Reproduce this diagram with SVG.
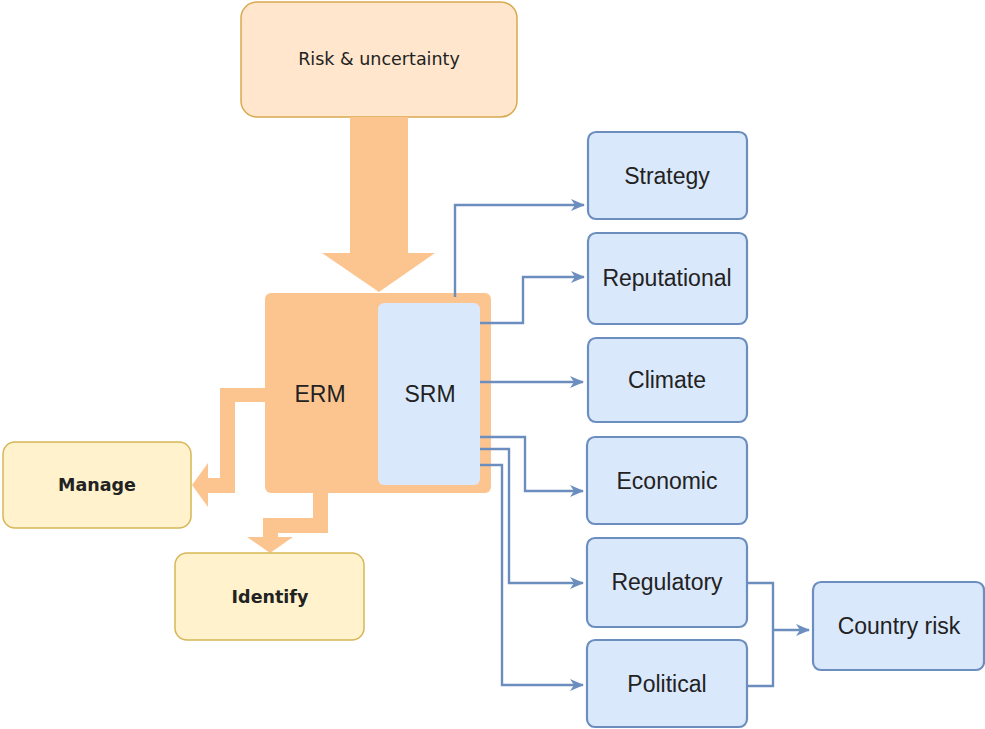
<svg xmlns="http://www.w3.org/2000/svg" width="985" height="729" viewBox="0 0 985 729">
<defs>
<style>
.blue{fill:#dae8fc;stroke:#6c8ebf;stroke-width:2.2}
.lbl{font-family:"Liberation Sans",Arial,sans-serif;font-size:23px;fill:#222;text-anchor:middle}
.tah{font-family:"DejaVu Sans",sans-serif;fill:#222;text-anchor:middle}
.con{fill:none;stroke:#6c8ebf;stroke-width:2.4}
.flex{fill:#fcc590;stroke:none}
</style>
<marker id="arr" viewBox="0 0 14 12" refX="13" refY="6" markerWidth="14" markerHeight="12" markerUnits="userSpaceOnUse" orient="auto">
<path d="M0,0 L14,6 L0,12 L4,6 Z" fill="#6c8ebf"/>
</marker>
</defs>
<rect width="985" height="729" fill="#ffffff"/>

<g id="risk">
<rect x="241" y="2" width="276" height="115" rx="16" fill="#ffe6cc" stroke="#d9a94f" stroke-width="1.5"/>
<text class="tah" x="379" y="65" font-size="17.5">Risk &amp; uncertainty</text>
</g>

<g id="bigarrow">
<path class="flex" d="M350,117 L408,117 L408,253 L435,253 L379,292 L322,253 L350,253 Z"/>
</g>

<g id="erm">
<rect x="265" y="293" width="226" height="200" rx="6" fill="#fcc590"/>
<text class="lbl" x="320" y="402" font-size="24" fill="#3a2a1a">ERM</text>
</g>

<g id="srm">
<rect x="378" y="303" width="102" height="182" rx="6" fill="#dae8fc"/>
<text class="lbl" x="430" y="402" font-size="24" fill="#2a3340">SRM</text>
</g>

<g id="flexarrows">
<path class="flex" d="M265,388 L265,402 L235,402 L235,493 L208,493 L208,507 L192,485 L208,463 L208,478 L220,478 L220,388 Z"/>
<path class="flex" d="M313,493 L328,493 L328,533 L278,533 L278,537 L293,537 L270,553 L247,537 L263,537 L263,518 L313,518 Z"/>
</g>

<g id="manage">
<rect x="3" y="442" width="188" height="86" rx="12" fill="#fff2cc" stroke="#d6b656" stroke-width="1.5"/>
<text class="tah" x="97" y="491" font-size="17.5" font-weight="bold">Manage</text>
</g>

<g id="identify">
<rect x="175" y="553" width="189" height="87" rx="12" fill="#fff2cc" stroke="#d6b656" stroke-width="1.5"/>
<text class="tah" x="270" y="603" font-size="17.5" font-weight="bold">Identify</text>
</g>

<g id="strategy">
<rect class="blue" x="588" y="132" width="159" height="87" rx="8"/>
<text class="lbl" x="667" y="184">Strategy</text>
</g>
<g id="reputational">
<rect class="blue" x="588" y="233" width="159" height="91" rx="8"/>
<text class="lbl" x="667" y="286">Reputational</text>
</g>
<g id="climate">
<rect class="blue" x="588" y="338" width="159" height="84" rx="8"/>
<text class="lbl" x="667" y="388">Climate</text>
</g>
<g id="economic">
<rect class="blue" x="587" y="437" width="160" height="87" rx="8"/>
<text class="lbl" x="667" y="489">Economic</text>
</g>
<g id="regulatory">
<rect class="blue" x="587" y="538" width="160" height="89" rx="8"/>
<text class="lbl" x="667" y="590">Regulatory</text>
</g>
<g id="political">
<rect class="blue" x="587" y="640" width="160" height="87" rx="8"/>
<text class="lbl" x="667" y="692">Political</text>
</g>
<g id="country">
<rect class="blue" x="813" y="582" width="171" height="88" rx="8"/>
<text class="lbl" x="899" y="634">Country risk</text>
</g>

<g id="connectors">
<path class="con" d="M455,297 L455,205 L584,205" marker-end="url(#arr)"/>
<path class="con" d="M480,323 L523,323 L523,277 L584,277" marker-end="url(#arr)"/>
<path class="con" d="M480,382 L583,382" marker-end="url(#arr)"/>
<path class="con" d="M480,437 L525,437 L525,491 L583,491" marker-end="url(#arr)"/>
<path class="con" d="M480,449 L509,449 L509,583 L583,583" marker-end="url(#arr)"/>
<path class="con" d="M480,465 L502,465 L502,685 L583,685" marker-end="url(#arr)"/>
<path class="con" d="M747,583 L773,583 L773,686 L747,686"/>
<path class="con" d="M773,630 L809,630" marker-end="url(#arr)"/>
</g>
</svg>
